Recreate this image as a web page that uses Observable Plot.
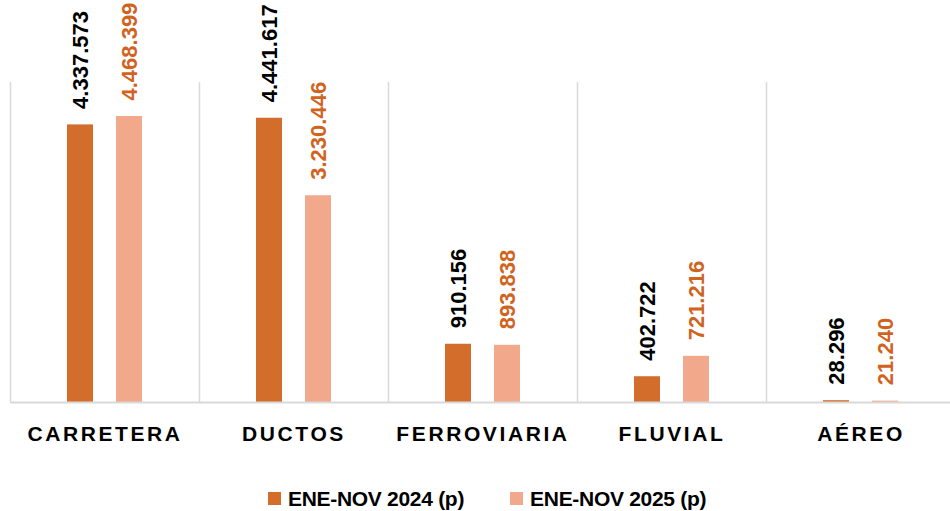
<!DOCTYPE html>
<html>
<head>
<meta charset="utf-8">
<script src="https://cdn.jsdelivr.net/npm/d3@7"></script>
<script src="https://cdn.jsdelivr.net/npm/@observablehq/plot@0.6"></script>
<style>
  html, body { margin: 0; padding: 0; background: #fff; }
  #wrap { position: relative; width: 950px; height: 511px; overflow: hidden; font-family: "Liberation Sans", Arial, sans-serif; }
  #wrap svg g[aria-label="x-axis tick label"] text { letter-spacing: 2.6px; }
  #legend { position: absolute; left: 268px; top: 488px; display: flex; align-items: center; font-family: "Liberation Sans", Arial, sans-serif; font-weight: bold; font-size: 21px; line-height: 21px; letter-spacing: -0.3px; color: #000; }
  .item { display: flex; align-items: center; margin-right: 46px; }
  .sw { width: 13px; height: 13px; margin-right: 7px; }
</style>
</head>
<body>
<div id="wrap"></div>
<script>
const categories = ["CARRETERA", "DUCTOS", "FERROVIARIA", "FLUVIAL", "AÉREO"];
const values2024 = [4337573, 4441617, 910156, 402722, 28296];
const values2025 = [4468399, 3230446, 893838, 721216, 21240];
const seriesNames = ["ENE-NOV 2024 (p)", "ENE-NOV 2025 (p)"];
const colors = ["#D26D2C", "#F2A98B"];
const labelColors = ["#000000", "#D0641E"];

const d2024 = categories.map((c, i) => ({cat: c, v: values2024[i]}));
const d2025 = categories.map((c, i) => ({cat: c, v: values2025[i]}));

const fmt = d3.formatLocale({decimal: ",", thousands: ".", grouping: [3], currency: ["", ""]}).format(",d");

const font = "'Liberation Sans', Arial, sans-serif";
const inset = 81.5;
const off = 24.5;

const chart = Plot.plot({
  width: 950,
  height: 478,
  marginTop: 82,
  marginBottom: 76,
  marginLeft: 10,
  marginRight: 0,
  style: {fontFamily: font, background: "#fff", overflow: "visible"},
  x: {domain: categories, range: [10, 955], padding: 0},
  y: {domain: [0, 5000000], axis: null},
  marks: [
    Plot.ruleX(categories, {x: d => d, dx: -94.5, y1: 0, y2: 5000000, stroke: "#D9D9D9", strokeWidth: 1.5}),
    Plot.barY(d2024, {x: "cat", y: "v", fill: colors[0], insetLeft: inset, insetRight: inset, dx: -off}),
    Plot.barY(d2025, {x: "cat", y: "v", fill: colors[1], insetLeft: inset, insetRight: inset, dx: off}),
    Plot.ruleY([0], {stroke: "#D9D9D9", strokeWidth: 2}),
    Plot.text(d2024, {x: "cat", y: "v", text: d => fmt(d.v), rotate: -90, textAnchor: "start", lineAnchor: "middle", dx: -off, dy: -16, fontSize: 22, fontWeight: "bold", fill: labelColors[0]}),
    Plot.text(d2025, {x: "cat", y: "v", text: d => fmt(d.v), rotate: -90, textAnchor: "start", lineAnchor: "middle", dx: off, dy: -16, fontSize: 22, fontWeight: "bold", fill: labelColors[1]}),
    Plot.axisX({tickSize: 0, tickPadding: 24, fontSize: 21, fontWeight: "bold", label: null, fill: "#000"})
  ]
});

const wrap = document.getElementById("wrap");
wrap.appendChild(chart);

const legend = document.createElement("div");
legend.id = "legend";
seriesNames.forEach((name, i) => {
  const item = document.createElement("div");
  item.className = "item";
  const sw = document.createElement("span");
  sw.className = "sw";
  sw.style.background = colors[i];
  const t = document.createElement("span");
  t.textContent = name;
  item.appendChild(sw);
  item.appendChild(t);
  legend.appendChild(item);
});
wrap.appendChild(legend);
</script>
</body>
</html>
